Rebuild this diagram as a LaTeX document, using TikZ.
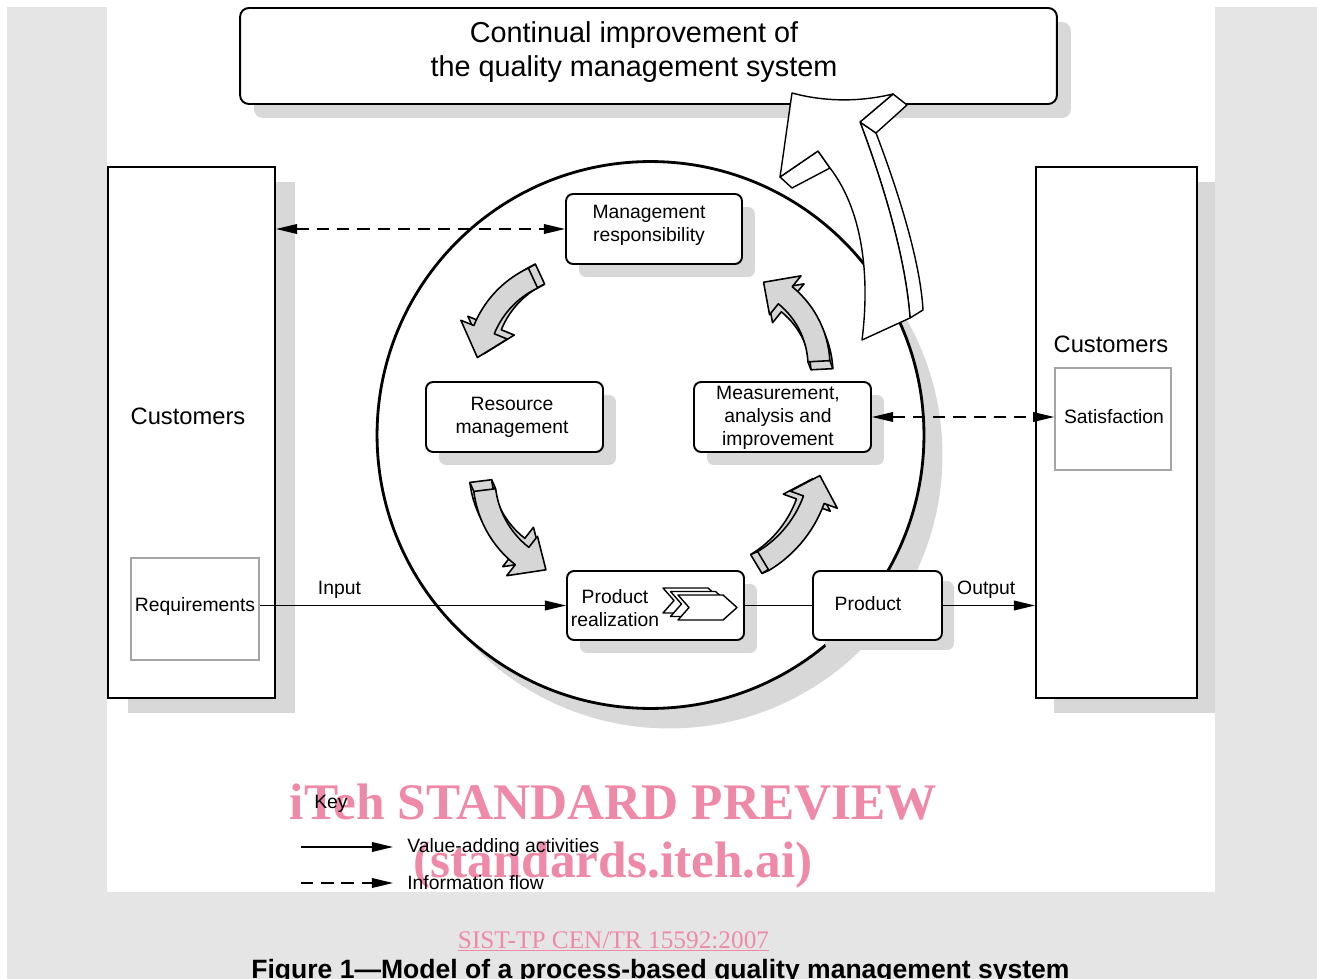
\documentclass[tikz,border=0pt]{standalone}
\usepackage{fontspec}
\setmainfont{Liberation Sans}
\newfontfamily\stampfont{Liberation Serif}
\usepackage{tikz}
\usetikzlibrary{arrows.meta,shadows}

\definecolor{pagegray}{RGB}{229,229,229}
\definecolor{shadowgray}{RGB}{216,216,216}
\definecolor{arrowgray}{RGB}{214,214,214}
\definecolor{framegray}{RGB}{165,165,165}
\definecolor{stamppink}{RGB}{238,138,168}

% curved 3d arrow: centre, radius, tail angle, head angle, tip angle, depth
\newcommand\bentarrow[6]{%
  \begin{scope}[shift={(#1)}]
    \foreach \s in {{#6},{0,0}}
      \draw[bentface, shift={(\s)}] plot[domain=#3:#4, samples=16] (\x:{#2+11})
        -- (#4:{#2+25}) -- (#5:#2) -- (#4:{#2-25})
        -- plot[domain=#4:#3, samples=16] (\x:{#2-11}) -- cycle;
    \draw[line width=0.9pt] (#3:{#2+11}) -- ++(#6) (#3:{#2-11}) -- ++(#6);
  \end{scope}}

\begin{document}
\begin{tikzpicture}[x=0.02cm, y=-0.02cm,
    every node/.style={font=\fontsize{11}{13}\selectfont},
    procbox/.style={draw, line width=1.1pt, rounded corners=4pt, fill=white, inner sep=0pt, align=center},
    custbox/.style={draw, line width=1.1pt, fill=white, inner sep=0pt},
    notebox/.style={draw=framegray, line width=0.9pt, fill=white, inner sep=0pt},
    castshadow/.style 2 args={general shadow={fill=shadowgray, shadow xshift=#1, shadow yshift=#2}},
    flow/.style={line width=0.8pt, -{Triangle[length=12pt, width=5.5pt]}},
    info/.style={flow, dash pattern=on 7pt off 4.5pt},
    infoboth/.style={info, {Triangle[length=12pt, width=5.5pt]}-{Triangle[length=12pt, width=5.5pt]}},
    bentface/.style={draw, fill=arrowgray, line width=0.9pt, line join=round},
    bigface/.style={draw, fill=white, line width=0.8pt, line join=round},
    stamp/.style={text=stamppink, font=\stampfont\bfseries\fontsize{29.2}{34}\selectfont, anchor=base}]

  \useasboundingbox (0,0) rectangle (1317,979);
  \clip (0,0) rectangle (1317,979);
  \fill[white] (0,0) rectangle (1317,979);
  \fill[pagegray] (7,7) rectangle (1317,979);
  \fill[white] (107,0) rectangle (1215,892);

  \node[procbox, rounded corners=5pt, minimum width=16.34cm, minimum height=1.92cm,
        castshadow={0.28cm}{-0.28cm}] (improve) at (648.5,56) {};
  \node[align=center, font=\fontsize{16.4}{19.8}\selectfont] at (634,52) {Continual improvement of\\the quality management system};

  \node[circle, draw, line width=1.6pt, fill=white, minimum size=10.94cm, inner sep=0pt,
        castshadow={0.37cm}{-0.4cm}] (qms) at (650.5,435) {};

  % customers on both sides
  \node[custbox, minimum width=3.34cm, minimum height=10.62cm, castshadow={0.4cm}{-0.3cm}] (custin) at (191.5,432.5) {};
  \node[font=\fontsize{13.5}{16}\selectfont] at (188,416) {Customers};
  \node[notebox, minimum width=2.56cm, minimum height=2.04cm] (req) at (195,609) {};
  \node at (195,606) {Requirements};

  \node[custbox, minimum width=3.22cm, minimum height=10.62cm, castshadow={0.36cm}{-0.3cm}] (custout) at (1116.5,432.5) {};
  \node[font=\fontsize{13.5}{16}\selectfont] at (1111,344) {Customers};
  \node[notebox, minimum width=2.32cm, minimum height=2.04cm] (sat) at (1113,419) {};
  \node at (1114,417) {Satisfaction};

  % processes
  \node[procbox, minimum width=3.52cm, minimum height=1.4cm, castshadow={0.26cm}{-0.26cm}] (mgmt) at (654,229) {};
  \node[align=center] at (649,225) {Management\\responsibility};
  \node[procbox, minimum width=3.54cm, minimum height=1.4cm, castshadow={0.26cm}{-0.26cm}] (res) at (514.5,417) {};
  \node[align=center] at (512,417) {Resource\\management};
  \node[procbox, minimum width=3.54cm, minimum height=1.4cm, castshadow={0.26cm}{-0.26cm}] (meas) at (782.5,417) {};
  \node[align=center] at (778,418) {Measurement,\\analysis and\\improvement};
  \node[procbox, minimum width=3.54cm, minimum height=1.38cm, castshadow={0.26cm}{-0.26cm}] (real) at (655.5,605.5) {};
  \node[align=center] at (615,608) {Product\\realization};
  \node[procbox, minimum width=2.58cm, minimum height=1.38cm, castshadow={0.24cm}{-0.2cm}] (prod) at (877.5,605.5) {};
  \node at (868,604) {Product};

  \foreach \d in {2,1,0}
    \draw[fill=white, line width=0.8pt, line join=round, shift={(-7.5*\d,-3.5*\d)}]
      (678,595) -- (723,595) -- (737,607.5) -- (723,620) -- (678,620) -- (689,607.5) -- cycle;

  \draw[infoboth] (custin.east |- mgmt.west) -- (mgmt.west);
  \draw[infoboth] (meas.east) -- (meas.east -| sat.west);
  \draw[flow] (req.east |- real.west) -- node[above, pos=0.26] {Input} (real.west);
  \draw[line width=0.8pt] (real.east) -- (prod.west);
  \draw[flow] (prod.east) -- node[above, pos=0.47] {Output} (prod.east -| custout.west);

  \bentarrow{574,366}{97}{245}{202}{185}{7,-4}
  \bentarrow{583,478}{99}{173}{128}{112}{-4,-9}
  \bentarrow{702,459}{119}{59}{20}{8}{-7,3}
  \bentarrow{728,366}{91}{357}{309}{293}{3,8}

  % improvement arrow out of the circle
  \draw[bigface] (860,122) .. controls (878,170) and (905,250) .. (910,318) -- (923,310)
    .. controls (920,255) and (892,175) .. (876,133) -- cycle;
  \draw[bigface] (893,94) -- (907,105) -- (876,133) -- (860,122) -- cycle;
  \draw[bigface] (818,151) -- (780,177) -- (792,188) -- (830,168) -- cycle;
  \draw[bigface] (792,93) .. controls (825,102) and (860,102) .. (893,94) -- (860,122)
    .. controls (878,170) and (905,250) .. (910,318) -- (862,340)
    .. controls (869,285) and (866,215) .. (830,168) -- (818,151) -- (780,177)
    .. controls (784,150) and (788,120) .. (792,93) -- cycle;

  \node[stamp] at (613.5,819) {iTeh STANDARD PREVIEW};
  \node[stamp] at (613,877) {(standards.iteh.ai)};
  \node[text=stamppink, font=\stampfont\fontsize{14.4}{16}\selectfont, anchor=base] at (613.5,948) {\underline{SIST-TP CEN/TR 15592:2007}};

  % key
  \node[anchor=base] at (331,808) {Key};
  \coordinate (keyA) at (301,847);
  \node[anchor=west, inner sep=0pt] (keyAtext) at (407,847) {Value-adding activities};
  \draw[flow, shorten >=0.28cm] (keyA) -- (keyAtext.west);
  \coordinate (keyB) at (301,883);
  \node[anchor=west, inner sep=0pt] (keyBtext) at (407,883) {Information flow};
  \draw[info, shorten >=0.28cm] (keyB) -- (keyBtext.west);

  \node[anchor=base, font=\bfseries\fontsize{15.1}{18}\selectfont] at (660.5,978) {Figure 1---Model of a process-based quality management system};
\end{tikzpicture}
\end{document}
